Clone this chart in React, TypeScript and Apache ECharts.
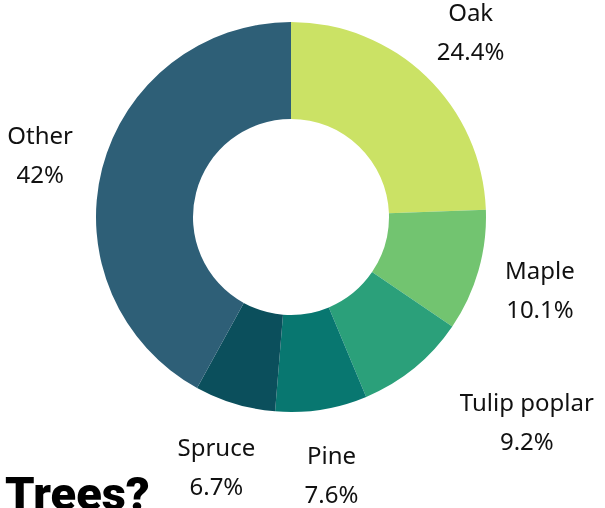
import React, { useEffect, useRef } from "react";
import * as echarts from "echarts";

const categories = ["Oak", "Maple", "Tulip poplar", "Pine", "Spruce", "Other"];
const shares = [24.4, 10.1, 9.2, 7.6, 6.7, 42];
const shareLabels = ["24.4%", "10.1%", "9.2%", "7.6%", "6.7%", "42%"];
const colors = ["#CBE265", "#72C470", "#2BA07A", "#087770", "#0B4F5C", "#2E5F77"];
const titleText = "Trees?";

export default function App() {
  const ref = useRef<HTMLDivElement>(null);
  useEffect(() => {
    if (!ref.current) return;
    const chart = echarts.init(ref.current, null, { renderer: "svg" });
    const pieData = categories.map((name, i) => ({
      name,
      value: shares[i],
      itemStyle: { color: colors[i] },
    }));
    const labelData = categories.map((name, i) => ({
      name,
      value: shares[i],
      label: {
        formatter: name + "\n" + shareLabels[i],
        offset: name === "Tulip poplar" ? [72, 3] : [0, 1],
      },
    }));
    chart.setOption({
      animation: false,
      title: {
        text: titleText,
        left: 0,
        top: 465,
        textStyle: {
          fontFamily: "Roboto",
          fontWeight: 900,
          fontSize: 47,
          color: "#000",
        },
      },
      series: [
        {
          type: "pie",
          center: [291, 217],
          radius: [98, 195],
          startAngle: 90,
          clockwise: true,
          label: { show: false },
          labelLine: { show: false },
          silent: true,
          data: pieData,
        },
        {
          type: "pie",
          center: [291, 217],
          radius: [195, 317],
          startAngle: 90,
          clockwise: true,
          silent: true,
          itemStyle: { color: "rgba(0,0,0,0)" },
          labelLine: { show: false },
          label: {
            show: true,
            position: "inside",
            color: "#111",
            fontFamily: "Noto Sans",
            fontSize: 24,
            lineHeight: 39,
            align: "center",
          },
          data: labelData,
        },
      ],
    });
    return () => chart.dispose();
  }, []);
  return (
    <div
      ref={ref}
      style={{ position: "fixed", left: 0, top: 0, width: 605, height: 508 }}
    />
  );
}
